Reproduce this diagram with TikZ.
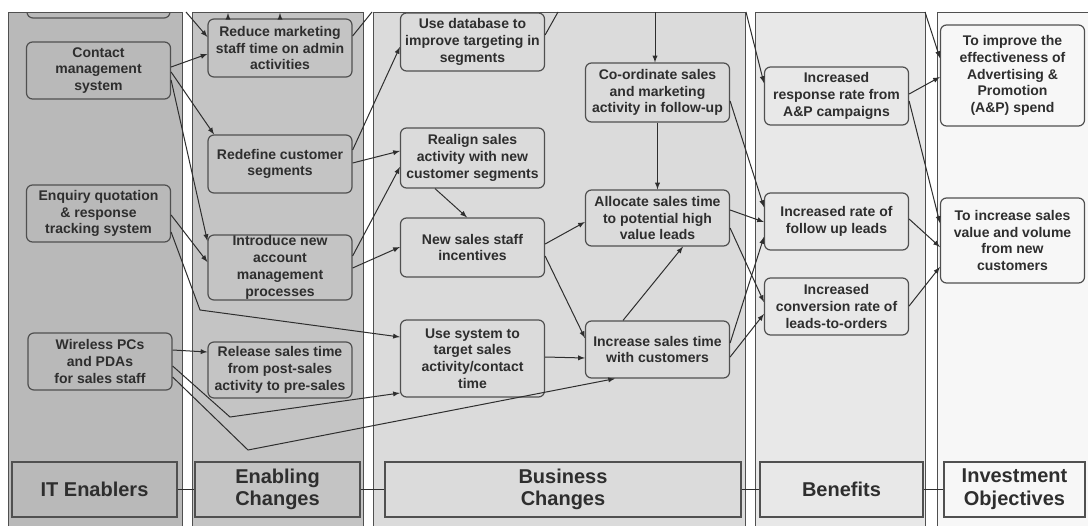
\documentclass[tikz,border=0pt]{standalone}
\usepackage{xcolor}
\usepackage{fontspec}
\setmainfont{Liberation Sans}
\usepackage{tikz}
\usetikzlibrary{arrows}

\definecolor{laneA}{HTML}{B9B9B9}
\definecolor{laneB}{HTML}{C4C4C4}
\definecolor{laneC}{HTML}{DBDBDB}
\definecolor{laneD}{HTML}{E8E8E8}
\definecolor{laneE}{HTML}{F7F7F7}
\definecolor{edge}{HTML}{505050}
\definecolor{ink}{HTML}{2E2E2E}

\begin{document}
\begin{tikzpicture}[x=0.75pt,y=-0.75pt,
    lane/.style={draw=edge,line width=0.7pt},
    box/.style={draw=edge,rounded corners=4.5pt,line width=0.9pt,align=center,
      minimum width=108pt,inner xsep=0pt,inner ysep=0pt,text=ink,
      font=\fontsize{10.5}{12.6}\selectfont\bfseries},
    foot/.style={draw=edge,line width=0.9pt,align=center,minimum height=41.25pt,
      text=ink,font=\fontsize{15}{17}\selectfont\bfseries},
    conn/.style={draw=ink,line width=0.75pt,-latex},
    link/.style={draw=ink,line width=0.75pt}]
    \useasboundingbox (0,0) rectangle (1088,525);
    \fill[white] (0,0) rectangle (1088,525);
    \draw[lane,fill=laneA] (8,12) rectangle (182,535);
    \draw[lane,fill=laneB] (192,12) rectangle (363,535);
    \draw[lane,fill=laneC] (373,12) rectangle (745,535);
    \draw[lane,fill=laneD] (755,12) rectangle (925,535);
    \draw[lane,fill=laneE] (937,12) rectangle (1100,535);
    \begin{scope}
      \clip (0,12) rectangle (1088,525);
      \draw[draw=edge,rounded corners=4.5pt,line width=0.9pt] (27,-30) rectangle (170,18);
    \end{scope}

    \node[box,minimum height=42.75pt] (cms) at (98.5,70.5) {Contact\\management\\system};
    \node[box,minimum height=42.75pt] (eqr) at (98.5,213.5) {Enquiry quotation\\\& response\\tracking system};
    \node[box,minimum height=42.75pt] (wpc) at (100,361.5) {Wireless PCs\\and PDAs\\for sales staff};

    \node[box,minimum height=43.5pt] (rmt) at (280,48) {Reduce marketing\\staff time on admin\\activities};
    \node[box,minimum height=43.5pt] (rcs) at (280,164) {Redefine customer\\segments};
    \node[box,minimum height=48.75pt] (iam) at (280,267.5) {Introduce new\\account\\management\\processes};
    \node[box,minimum height=42pt] (rst) at (280,370) {Release sales time\\from post-sales\\activity to pre-sales};

    \node[box,minimum height=43.5pt] (udb) at (472.5,42) {Use database to\\improve targeting in\\segments};
    \node[box,minimum height=45pt] (ras) at (472.5,158) {Realign sales\\activity with new\\customer segments};
    \node[box,minimum height=44.25pt] (nsi) at (472.5,247.5) {New sales staff\\incentives};
    \node[box,minimum height=57.75pt] (ust) at (472.5,358.5) {Use system to\\target sales\\activity/contact\\time};
    \node[box,minimum height=44.25pt] (csm) at (657.5,92.5) {Co-ordinate sales\\and marketing\\activity in follow-up};
    \node[box,minimum height=42pt] (ast) at (657.5,218) {Allocate sales time\\to potential high\\value leads};
    \node[box,minimum height=42.75pt] (ist) at (657.5,349.5) {Increase sales time\\with customers};

    \node[box,minimum height=43.5pt] (irr) at (836.5,96) {Increased\\response rate from\\A\&P campaigns};
    \node[box,minimum height=42.75pt] (irf) at (836.5,221.5) {Increased rate of\\follow up leads};
    \node[box,minimum height=42.75pt] (icr) at (836.5,306.5) {Increased\\conversion rate of\\leads-to-orders};

    \node[box,minimum height=75.75pt] (tie) at (1012.5,75.5) {To improve the\\effectiveness of\\Advertising \&\\Promotion\\(A\&P) spend};
    \node[box,minimum height=63.75pt] (tis) at (1012.5,240.5) {To increase sales\\value and volume\\from new\\customers};

    \node[foot,fill=laneA,minimum width=123.75pt] (fit) at (94.5,489.5) {IT Enablers};
    \node[foot,fill=laneB,minimum width=123.75pt] (fec) at (277.5,489.5) {Enabling\\Changes};
    \node[foot,fill=laneC,minimum width=267pt] (fbc) at (563,489.5) {Business\\Changes};
    \node[foot,fill=laneD,minimum width=122.25pt] (fbe) at (841.5,489.5) {Benefits};
    \node[foot,fill=laneE,minimum width=105.75pt] (fio) at (1014.5,489.5) {Investment\\Objectives};

    \coordinate (ta) at (186,12);
    \coordinate (tb) at (372,12);
    \coordinate (tc) at (558,12);
    \coordinate (td) at (655,12);
    \coordinate (te) at (746,12);
    \coordinate (tf) at (925,12);
    \coordinate (ua) at (228,13);
    \coordinate (ub) at (280,13);
    \coordinate (ka) at (200,310);
    \coordinate (kb) at (230,417);
    \coordinate (kc) at (248,450);

    \draw[conn] (ta) -- (rmt.west |- 0,37);
    \draw[link] (rmt.east |- 0,36) -- (tb);
    \draw[link] (udb.east |- 0,35) -- (tc);
    \draw[conn] (td) -- (td |- csm.north);
    \draw[conn] (te) -- (irr.west |- 0,83);
    \draw[conn] (tf) -- (tie.west |- 0,58);
    \draw[conn] (rmt.north -| ua) -- (ua);
    \draw[conn] (rmt.north -| ub) -- (ub);

    \draw[conn] (cms.east |- 0,67) -- (rmt.west |- 0,54);
    \draw[conn] (cms.east |- 0,72) -- (rcs.north -| 214,0);
    \draw[conn] (cms.east |- 0,80) -- (iam.west |- 0,241);
    \draw[conn] (eqr.east |- 0,215) -- (iam.west |- 0,262);
    \draw[conn] (eqr.east |- 0,232) -- (ka) -- (ust.west |- 0,337);
    \draw[conn] (wpc.east |- 0,350) -- (rst.west |- 0,352);
    \draw[conn] (wpc.east |- 0,366) -- (kb) -- (ust.west |- 0,393);
    \draw[conn] (wpc.east |- 0,377) -- (kc) -- (ist.south -| 615,0);

    \draw[conn] (rcs.east |- 0,150) -- (udb.west |- 0,47);
    \draw[conn] (rcs.east |- 0,163) -- (ras.west |- 0,151);
    \draw[conn] (iam.east |- 0,256) -- (ras.west |- 0,167);
    \draw[conn] (iam.east |- 0,268) -- (nsi.west |- 0,247);
    \draw[conn] (ras.south -| 435,0) -- (nsi.north -| 467,0);

    \draw[conn] (nsi.east |- 0,244) -- (ast.west |- 0,222);
    \draw[conn] (nsi.east |- 0,256) -- (ist.west |- 0,338);
    \draw[conn] (ust.east |- 0,357) -- (ist.west |- 0,358);
    \draw[conn] (ist.north -| 623,0) -- (ast.south -| 683,0);
    \draw[conn] (csm.south) -- (ast.north);

    \draw[conn] (csm.east |- 0,101) -- (irf.west |- 0,207);
    \draw[conn] (ast.east |- 0,210) -- (irf.west |- 0,222);
    \draw[conn] (ast.east |- 0,228) -- (icr.west |- 0,302);
    \draw[conn] (ist.east |- 0,343) -- (irf.west |- 0,237);
    \draw[conn] (ist.east |- 0,357) -- (icr.west |- 0,314);

    \draw[conn] (irr.east |- 0,94) -- (tie.west |- 0,77);
    \draw[conn] (irr.east |- 0,101) -- (tis.west |- 0,223);
    \draw[conn] (irf.east |- 0,219) -- (tis.west |- 0,247);
    \draw[conn] (icr.east |- 0,306) -- (tis.west |- 0,267);

    \draw[link] (fit) -- (fec);
    \draw[link] (fec) -- (fbc);
    \draw[link] (fbc) -- (fbe);
    \draw[link] (fbe) -- (fio);
\end{tikzpicture}
\end{document}
